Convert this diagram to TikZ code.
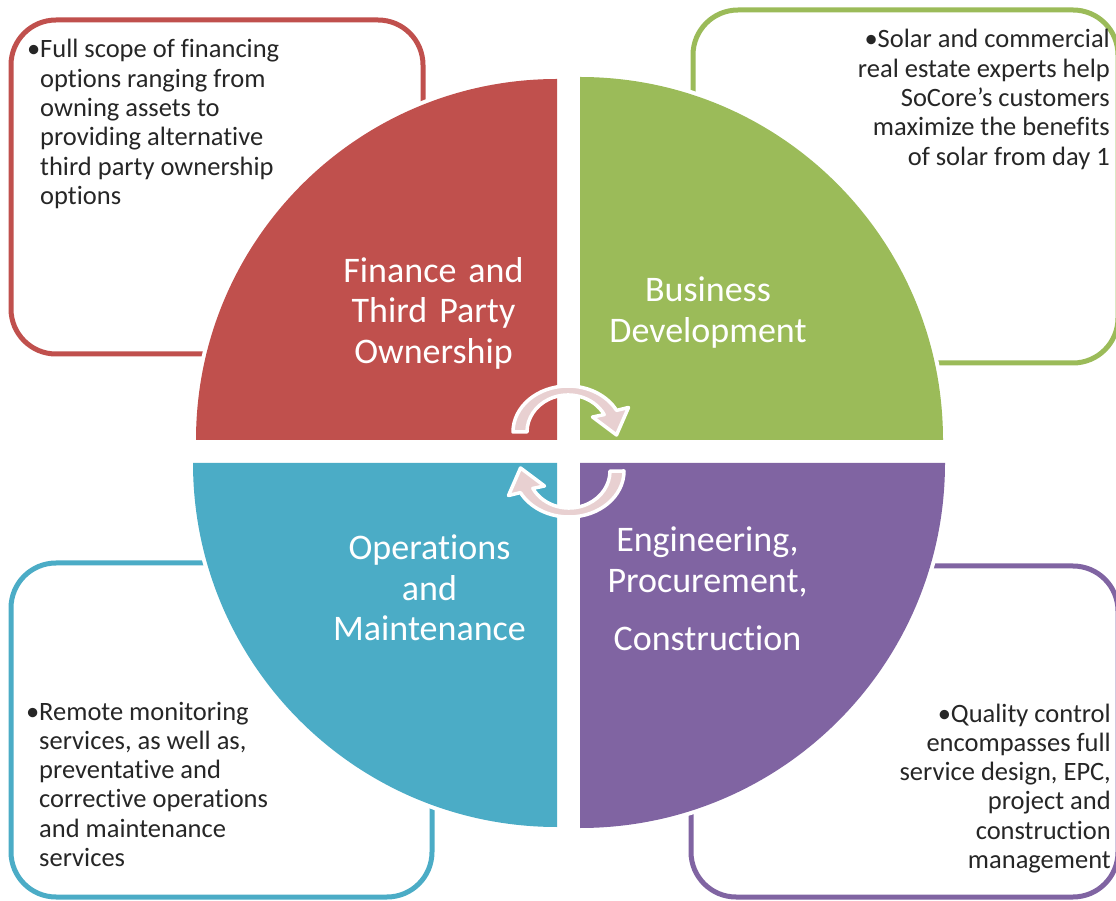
\documentclass[tikz,border=0pt]{standalone}
\usepackage{fontspec}
\setmainfont{Carlito}[Ligatures=NoCommon]
\definecolor{cred}{HTML}{C0504D}
\definecolor{cgreen}{HTML}{9BBB59}
\definecolor{cblue}{HTML}{4BACC6}
\definecolor{cpurple}{HTML}{8064A2}
\definecolor{ctext}{HTML}{262626}
\definecolor{carrow}{HTML}{E8D0D1}
\begin{document}
\begin{tikzpicture}[x=1pt,y=1pt,
  infobox/.style={line width=5pt, rounded corners=45pt, fill=white},
  quad/.style={preaction={draw=white, line width=8pt}},
  quadlabel/.style={text=white, inner sep=0pt, text width=300pt, align=center,
    font=\fontsize{36}{40.3}\selectfont, anchor=base},
  desc/.style={text=ctext, inner sep=0pt, text width=330pt,
    font=\fontsize{26.5}{29.3}\selectfont},
  descl/.style={desc, align=flush left, anchor=base west},
  descr/.style={desc, align=flush right, anchor=base east},
  cyclearrow/.style={fill=carrow, draw=white, line width=3.5pt, line join=round}
]
\useasboundingbox (0,0) rectangle (1116,900);
% outer description boxes
\draw[infobox, draw=cred] (11,546) rectangle (423,880);
\draw[infobox, draw=cgreen] (693,537) rectangle (1118,890);
\draw[infobox, draw=cblue] (11,3) rectangle (432,337);
\draw[infobox, draw=cpurple] (691,3) rectangle (1118,334);
% quadrants
\path[quad, fill=cred] (557,460) -- (557,821) arc[start angle=90,end angle=180,radius=361] -- cycle;
\path[quad, fill=cgreen] (580,460) -- (943,460) arc[start angle=0,end angle=90,radius=363] -- cycle;
\path[quad, fill=cblue] (557,437) -- (193,437) arc[start angle=180,end angle=270,radius=364] -- cycle;
\path[quad, fill=cpurple] (580,437) -- (580,72) arc[start angle=270,end angle=360,radius=365] -- cycle;
% cycle arrows
\path[cyclearrow] (513,468) arc[start angle=180,end angle=28,x radius=55,y radius=46]
  -- (628.5,492.5) -- (616.5,465) -- (592.5,483) -- (604.2,485.4)
  arc[start angle=28,end angle=180,x radius=41,y radius=37] -- cycle;
\begin{scope}[rotate around={180:(568.5,448.5)}]
\path[cyclearrow] (513,468) arc[start angle=180,end angle=28,x radius=55,y radius=46]
  -- (628.5,492.5) -- (616.5,465) -- (592.5,483) -- (604.2,485.4)
  arc[start angle=28,end angle=180,x radius=41,y radius=37] -- cycle;
\end{scope}
% quadrant labels
\node[quadlabel] (fin) at (433.5,617.5) {Finance and\\Third Party\\Ownership};
\node[quadlabel] (bus) at (708,598) {Business\\Development};
\node[quadlabel] (epc) at (707.5,348) {Engineering,\\Procurement,\\[17.7pt]Construction};
\node[quadlabel] (om) at (429.5,340) {Operations\\and\\Maintenance};
% descriptions
\node[descl] (findesc) at (40,842) {\llap{•}Full scope of financing\\options ranging from\\owning assets to\\providing alternative\\third party ownership\\options};
\node[descr] (busdesc) at (1110,852) {•Solar and commercial\\real estate experts help\\SoCore’s customers\\maximize the benefits\\of solar from day 1};
\node[descl] (omdesc) at (39,180) {\llap{•}Remote monitoring\\services, as well as,\\preventative and\\corrective operations\\and maintenance\\services};
\node[descr] (epcdesc) at (1111,178) {•Quality control\\encompasses full\\service design, EPC,\\project and\\construction\\management};
\end{tikzpicture}
\end{document}
